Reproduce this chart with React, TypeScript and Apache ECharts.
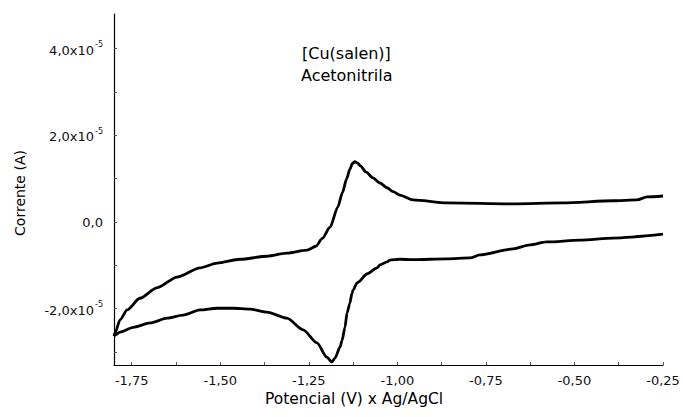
import React, { useEffect, useRef } from "react";
import * as echarts from "echarts";

// Upper (anodic) branch, scanning from -1.80 V to -0.25 V
const upperPotential = [-1.800, -1.797, -1.783, -1.763, -1.727, -1.679, -1.622, -1.557, -1.509, -1.444, -1.368, -1.312, -1.255, -1.230, -1.212, -1.190, -1.168, -1.155, -1.143, -1.134, -1.127, -1.120, -1.112, -1.105, -1.088, -1.069, -1.049, -1.029, -1.012, -0.993, -0.956, -0.860, -0.674, -0.532, -0.391, -0.323, -0.295, -0.250];
const upperCurrent = [-2.63e-5, -2.56e-5, -2.26e-5, -2.03e-5, -1.76e-5, -1.52e-5, -1.27e-5, -1.06e-5, -0.95e-5, -0.86e-5, -0.79e-5, -0.72e-5, -0.65e-5, -0.56e-5, -0.38e-5, -0.12e-5, 0.35e-5, 0.68e-5, 1.00e-5, 1.22e-5, 1.35e-5, 1.39e-5, 1.36e-5, 1.30e-5, 1.15e-5, 1.02e-5, 0.90e-5, 0.79e-5, 0.70e-5, 0.62e-5, 0.51e-5, 0.44e-5, 0.42e-5, 0.44e-5, 0.49e-5, 0.51e-5, 0.58e-5, 0.60e-5];

// Lower (cathodic) branch, scanning from -0.25 V back to -1.80 V
const lowerPotential = [-0.250, -0.391, -0.484, -0.578, -0.626, -0.674, -0.767, -0.795, -0.860, -0.956, -0.993, -1.021, -1.029, -1.049, -1.057, -1.086, -1.111, -1.114, -1.125, -1.128, -1.134, -1.142, -1.148, -1.156, -1.162, -1.176, -1.185, -1.199, -1.227, -1.266, -1.312, -1.368, -1.416, -1.464, -1.509, -1.557, -1.605, -1.650, -1.698, -1.746, -1.783, -1.797, -1.800];
const lowerCurrent = [-0.28e-5, -0.37e-5, -0.42e-5, -0.46e-5, -0.53e-5, -0.62e-5, -0.76e-5, -0.83e-5, -0.85e-5, -0.87e-5, -0.86e-5, -0.88e-5, -0.92e-5, -0.99e-5, -1.06e-5, -1.20e-5, -1.39e-5, -1.41e-5, -1.57e-5, -1.64e-5, -1.87e-5, -2.10e-5, -2.43e-5, -2.73e-5, -2.89e-5, -3.14e-5, -3.23e-5, -3.12e-5, -2.79e-5, -2.49e-5, -2.22e-5, -2.08e-5, -2.01e-5, -1.99e-5, -1.99e-5, -2.03e-5, -2.15e-5, -2.22e-5, -2.33e-5, -2.43e-5, -2.54e-5, -2.61e-5, -2.63e-5];

const xLabelValues = [-1.75, -1.5, -1.25, -1.0, -0.75, -0.5, -0.25];
const xTickValues = [-1.75, -1.625, -1.5, -1.375, -1.25, -1.125, -1.0, -0.875, -0.75, -0.625, -0.5, -0.375, -0.25];
const yLabelValues = [-2e-5, 0, 2e-5, 4e-5];
const yTickValues = [-3e-5, -2e-5, -1e-5, 0, 1e-5, 2e-5, 3e-5, 4e-5];

const xTitle = "Potencial (V) x Ag/AgCl";
const yTitle = "Corrente (A)";
const noteLines = ["[Cu(salen)]", "Acetonitrila"];

const FONT = "DejaVu Sans";

export default function App() {
  const ref = useRef<HTMLDivElement>(null);
  useEffect(() => {
    if (!ref.current) return;
    const chart = echarts.init(ref.current, null, { renderer: "svg" });
    const upper = upperPotential.map((x, i) => [x, upperCurrent[i]]);
    const lower = lowerPotential.map((x, i) => [x, lowerCurrent[i]]);
    chart.setOption({
      animation: false,
      backgroundColor: "#fff",
      grid: { left: 114, right: 20, top: 14, bottom: 52, containLabel: false },
      xAxis: {
        type: "value",
        min: -1.8,
        max: -0.25,
        axisLine: { show: true, onZero: false, lineStyle: { color: "#000", width: 1.2 } },
        axisTick: { show: true, inside: true, length: 3, customValues: xTickValues, lineStyle: { color: "#555", width: 1 } },
        axisLabel: {
          customValues: xLabelValues,
          margin: 9,
          fontFamily: FONT,
          fontSize: 13,
          color: "#111",
          formatter: (v: number) => v.toFixed(2).replace(".", ","),
        },
        splitLine: { show: false },
      },
      yAxis: {
        type: "value",
        min: -3.3e-5,
        max: 4.8e-5,
        axisLine: { show: true, onZero: false, lineStyle: { color: "#000", width: 1.2 } },
        axisTick: { show: true, inside: true, length: 3, customValues: yTickValues, lineStyle: { color: "#555", width: 1 } },
        axisLabel: {
          customValues: yLabelValues,
          margin: 11,
          fontFamily: FONT,
          fontSize: 13,
          color: "#111",
          formatter: (v: number) => {
            if (Math.abs(v) < 1e-12) return "0,0";
            const m = (v * 1e5).toFixed(1).replace(".", ",");
            return "{m|" + m + "x10}{s|-5}";
          },
          rich: {
            m: { fontFamily: FONT, fontSize: 13, color: "#111", lineHeight: 16, verticalAlign: "bottom" },
            s: { fontFamily: FONT, fontSize: 8, color: "#111", lineHeight: 16, verticalAlign: "top", padding: [0, 0, 0, 1] },
          },
        },
        splitLine: { show: false },
      },
      graphic: [
        {
          type: "text",
          x: 354,
          y: 399,
          style: { text: xTitle, font: "15.5px " + FONT, fill: "#000", align: "center", verticalAlign: "middle" },
        },
        {
          type: "text",
          x: 20,
          y: 193,
          rotation: Math.PI / 2,
          style: { text: yTitle, font: "14px " + FONT, fill: "#000", align: "center", verticalAlign: "middle" },
        },
        {
          type: "text",
          x: 302,
          y: 53,
          style: { text: noteLines[0], font: "16px " + FONT, fill: "#000", verticalAlign: "middle" },
        },
        {
          type: "text",
          x: 301,
          y: 75,
          style: { text: noteLines[1], font: "16px " + FONT, fill: "#000", verticalAlign: "middle" },
        },
      ],
      series: [
        {
          type: "line",
          data: lower,
          showSymbol: false,
          smooth: 0.25,
          smoothMonotone: "x",
          lineStyle: { color: "#000", width: 2.8 },
        },
        {
          type: "line",
          data: upper,
          showSymbol: false,
          smooth: 0.25,
          smoothMonotone: "x",
          lineStyle: { color: "#000", width: 2.8 },
        },
      ],
    });
    return () => chart.dispose();
  }, []);
  return <div ref={ref} style={{ width: 683, height: 417, position: "absolute", left: 0, top: 0 }} />;
}
